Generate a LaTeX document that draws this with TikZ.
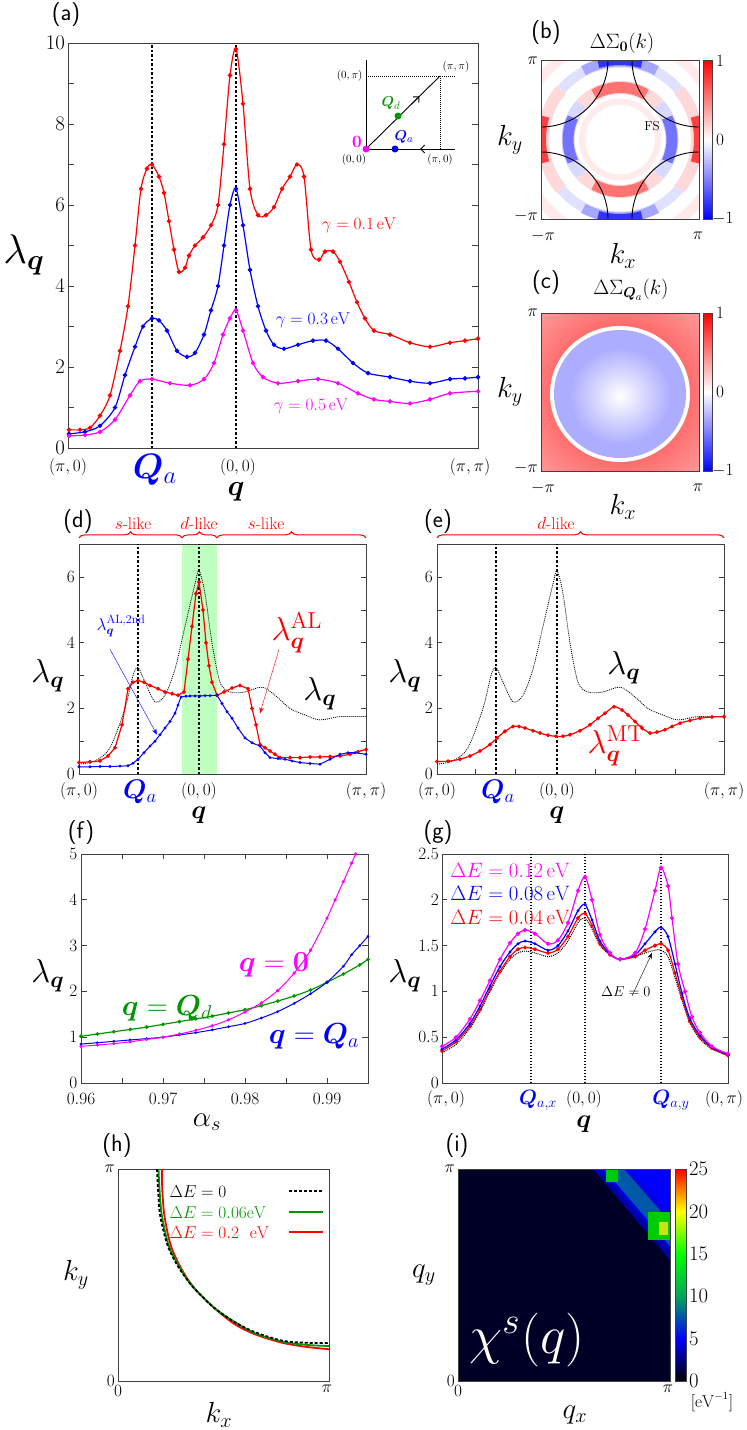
\documentclass[tikz,border=0pt]{standalone}
\usepackage{amsmath}
\usepackage{bm}
\usetikzlibrary{decorations.pathreplacing,arrows.meta,calc}
\newcommand{\fsz}[1]{\fontsize{#1}{#1}\selectfont}
\definecolor{jetnavy}{RGB}{0,0,38}
\definecolor{mag}{RGB}{255,0,255}
\definecolor{dgreen}{RGB}{0,150,0}
\begin{document}
\begin{tikzpicture}[x=1pt,y=-1pt]
\tikzstyle{frame}=[line width=0.9pt, black!75]
\tikzstyle{ticklab}=[font=\fsz{17}, inner sep=1pt]
\tikzstyle{panlab}=[font=\sffamily\fsz{24}, inner sep=0pt]
\tikzstyle{bigm}=[font=\fsz{20}, inner sep=1pt, scale=#1/20]
\tikzstyle{qline}=[line width=2.2pt, dash pattern=on 2.5pt off 2pt]
\tikzstyle{thinq}=[line width=1.2pt, dash pattern=on 1.5pt off 1.5pt]
\tikzstyle{lamdot}=[line width=0.8pt, dash pattern=on 1pt off 1pt]
\tikzstyle{curve}=[line width=1.2pt, mark=*, mark size=1.6pt]
\tikzstyle{brc}=[red, line width=1pt, decorate, decoration={brace, amplitude=6pt}]
\useasboundingbox (0,0) rectangle (747,1430);

% ---------------- (a)
\node[panlab] (pa) at (66,15) {(a)};
\begin{scope}[yshift=-448pt, y={(0,40.5pt)}]
\draw[frame] (68,0) rectangle (478,10);
\foreach \v in {0,2,...,10} \node[ticklab, font=\fsz{20}, anchor=east] (ya\v) at (66,\v) {$\v$};
\foreach \v in {1,...,9} {\draw[frame] (68,\v) -- ++(6,0); \draw[frame] (478,\v) -- ++(-6,0);}
\draw[qline] (152,0) -- (152,10);
\draw[qline] (236,0) -- (236,10);
\draw[curve, red] plot[smooth] coordinates {(69,0.45) (80,0.45) (90,0.5) (100,0.8) (110,1.3) (120,2.4) (128,3.5) (135,5) (141,6.4) (147,6.9) (152,7.0) (159,6.7) (164,6.3) (169,5.6) (174,4.9) (179,4.35) (185,4.45) (189,4.75) (195,5.0) (203,5.2) (211,5.5) (218,6.0) (224,7.5) (230,9.2) (236,9.85) (243,8.5) (250,6.4) (258,5.75) (266,5.75) (274,5.95) (282,6.4) (290,6.7) (297,7.0) (304,6.7) (311,4.9) (319,4.65) (325,4.85) (333,4.85) (340,4.6) (349,4.1) (357,3.6) (365,3.2) (374,2.9) (390,2.8) (410,2.6) (430,2.5) (450,2.6) (465,2.65) (478,2.7)};
\draw[curve, blue] plot[smooth] coordinates {(69,0.35) (85,0.4) (100,0.55) (115,1) (125,1.8) (135,2.5) (143,3.0) (152,3.2) (159,3.15) (167,2.9) (177,2.4) (187,2.25) (195,2.35) (204,2.8) (211,3.4) (218,4.0) (224,5.0) (230,6.0) (236,6.4) (243,5.5) (250,4.4) (258,3.5) (266,2.9) (274,2.55) (284,2.45) (298,2.55) (313,2.65) (326,2.65) (338,2.45) (353,2.1) (368,1.85) (390,1.75) (410,1.65) (430,1.6) (450,1.7) (465,1.72) (478,1.75)};
\draw[curve, mag] plot[smooth] coordinates {(69,0.3) (85,0.32) (100,0.4) (115,0.7) (130,1.3) (140,1.65) (152,1.7) (170,1.6) (190,1.55) (204,1.7) (214,2.1) (223,2.8) (230,3.2) (236,3.4) (243,2.9) (253,2.1) (263,1.75) (278,1.6) (298,1.65) (318,1.7) (338,1.6) (358,1.35) (374,1.2) (390,1.15) (410,1.1) (430,1.2) (450,1.35) (478,1.4)};
\end{scope}
\node[red, font=\fsz{16}] (ga1) at (359,225) {$\gamma=0.1\,\mathrm{eV}$};
\node[blue, font=\fsz{16}] (ga3) at (313,320) {$\gamma=0.3\,\mathrm{eV}$};
\node[mag, font=\fsz{16}] (ga5) at (311,406) {$\gamma=0.5\,\mathrm{eV}$};
\node[bigm=40] (lama) at (24,255) {$\lambda_{\bm q}$};
\node[ticklab, font=\fsz{19}] (xa1) at (68,467) {$(\pi,0)$};
\node[ticklab, font=\fsz{19}] (xa2) at (238,467) {$(0,0)$};
\node[ticklab, font=\fsz{19}] (xa3) at (470,467) {$(\pi,\pi)$};
\node[blue, bigm=34] (xaq) at (155,470) {$\bm{Q}_a$};
\node[bigm=28] (xaqq) at (236,492) {$\bm q$};
% inset
\coordinate (o) at (366,149);
\coordinate (pp) at (440,76);
\draw[line width=0.9pt] (366,60) -- (o) -- (455,149);
\draw[line width=0.9pt] (o) -- (pp);
\draw[lamdot] (366,76) -- (455,76);
\draw[lamdot] (440,76) -- (440,149);
\draw[line width=0.9pt, -{Straight Barb[length=4pt]}] ($(o)!0.62!(pp)$) -- ($(o)!0.72!(pp)$);
\draw[line width=0.9pt, -{Straight Barb[length=4pt]}] (430,149) -- (420,149);
\fill[mag] (o) circle (3.5);
\fill[blue] (395,149) circle (3.5);
\fill[dgreen] (398,116) circle (3.5);
\node[font=\fsz{11}, anchor=east] (i1) at (366,76) {$(0,\pi)$};
\node[font=\fsz{11}] (i2) at (456,67) {$(\pi,\pi)$};
\node[font=\fsz{11}] (i3) at (354,160) {$(0,0)$};
\node[font=\fsz{11}] (i4) at (440,160) {$(\pi,0)$};
\node[dgreen, font=\fsz{15}] (iqd) at (391,103) {$\bm Q_d$};
\node[blue, font=\fsz{15}] (iqa) at (404,137) {$\bm Q_a$};
\node[mag, font=\fsz{16}] (i0) at (357,142) {$\bm 0$};

% ---------------- (b)
\node[panlab] (pb) at (546,33) {(b)};
\node[font=\fsz{21}] (tb) at (622,43) {$\Delta\Sigma_{\bm 0}(k)$};
\begin{scope}
\clip (541,60) rectangle (699,219);
\fill[white] (541,60) rectangle (699,219);
\coordinate (cb) at (620,139.5);
\draw[red!8, line width=10pt] (cb) circle (100);
% outer ring
\draw[blue!12, line width=10pt] ($(cb)+(40:77)$) arc (40:140:77);
\draw[blue!12, line width=10pt] ($(cb)+(220:77)$) arc (220:320:77);
\draw[blue!35, line width=10pt] ($(cb)+(62:78)$) arc (62:118:78);
\draw[blue!35, line width=10pt] ($(cb)+(242:78)$) arc (242:298:78);
\draw[blue!80, line width=9pt] ($(cb)+(74:79)$) arc (74:106:79);
\draw[blue!80, line width=9pt] ($(cb)+(254:79)$) arc (254:286:79);
\draw[red!15, line width=12pt] ($(cb)+(140:77)$) arc (140:220:77);
\draw[red!15, line width=12pt] ($(cb)+(-40:77)$) arc (-40:40:77);
\draw[red!75, line width=10pt] ($(cb)+(163:79)$) arc (163:197:79);
\draw[red!75, line width=10pt] ($(cb)+(-17:79)$) arc (-17:17:79);
% inner ring
\draw[red!15, line width=13pt] ($(cb)+(42:52)$) arc (42:138:52);
\draw[red!15, line width=13pt] ($(cb)+(222:52)$) arc (222:318:52);
\draw[red!55, line width=11pt] ($(cb)+(60:52)$) arc (60:120:52);
\draw[red!55, line width=11pt] ($(cb)+(240:52)$) arc (240:300:52);
\draw[blue!15, line width=13pt] ($(cb)+(138:52)$) arc (138:222:52);
\draw[blue!15, line width=13pt] ($(cb)+(-42:52)$) arc (-42:42:52);
\draw[blue!55, line width=11pt] ($(cb)+(155:52)$) arc (155:205:52);
\draw[blue!55, line width=11pt] ($(cb)+(-25:52)$) arc (-25:25:52);
\draw[red!8, line width=6pt] (cb) circle (38);
\foreach \cx/\cy in {541/60, 699/60, 541/219, 699/219} \draw[line width=0.9pt] (\cx,\cy) circle (67);
\end{scope}
\draw[frame] (541,60) rectangle (699,219);
\node[font=\fsz{13}] (fs) at (652,126) {FS};
\shade[top color=red, bottom color=white] (703,60) rectangle (712,140);
\shade[top color=white, bottom color=blue] (703,140) rectangle (712,219);
\draw[frame] (703,60) rectangle (712,219);
\node[ticklab, anchor=west] (cb1) at (715,61) {$1$};
\node[ticklab, anchor=west] (cb2) at (715,140) {$0$};
\node[ticklab, anchor=west] (cb3) at (711,219) {$-1$};
\node[ticklab, anchor=east] (yb1) at (539,61) {$\pi$};
\node[ticklab, anchor=east] (yb2) at (539,216) {$-\pi$};
\node[ticklab] (xb1) at (543,236) {$-\pi$};
\node[ticklab] (xb2) at (698,236) {$\pi$};
\node[bigm=28] (kxb) at (623,256) {$k_x$};
\node[bigm=28] (kyb) at (510,140) {$k_y$};

% ---------------- (c)
\node[panlab] (pc) at (546,283) {(c)};
\node[font=\fsz{21}] (tc) at (631,290) {$\Delta\Sigma_{\bm Q_a}(k)$};
\begin{scope}
\clip (541,313) rectangle (699,471);
\fill[red!40] (541,313) rectangle (699,471);
\shade[inner color=red!85, outer color=red!40] (620,393) circle (112);
\fill[white] (620,394) ellipse (70 and 68);
\fill[blue!32] (620,394) ellipse (66 and 64);
\shade[inner color=white, outer color=blue!32] (620,396) ellipse (50 and 48);
\end{scope}
\draw[frame] (541,313) rectangle (699,471);
\shade[top color=red, bottom color=white] (703,313) rectangle (712,392);
\shade[top color=white, bottom color=blue] (703,392) rectangle (712,471);
\draw[frame] (703,313) rectangle (712,471);
\node[ticklab, anchor=west] (cc1) at (715,313) {$1$};
\node[ticklab, anchor=west] (cc2) at (715,392) {$0$};
\node[ticklab, anchor=west] (cc3) at (711,471) {$-1$};
\node[ticklab, anchor=east] (yc1) at (539,313) {$\pi$};
\node[ticklab, anchor=east] (yc2) at (539,468) {$-\pi$};
\node[ticklab] (xc1) at (543,488) {$-\pi$};
\node[ticklab] (xc2) at (698,488) {$\pi$};
\node[bigm=28] (kxc) at (623,507) {$k_x$};
\node[bigm=28] (kyc) at (510,392) {$k_y$};

% ---------------- (d)
\node[panlab] (pd) at (78,522) {(d)};
\begin{scope}[yshift=-774pt, y={(0,32.8pt)}]
\fill[green!25] (182,0) rectangle (217,7);
\draw[frame] (79,0) rectangle (366,7);
\foreach \v in {0,2,4,6} \node[ticklab, anchor=east] (yd\v) at (76,\v) {$\v$};
\foreach \v in {1,...,6} {\draw[frame] (79,\v) -- ++(5,0); \draw[frame] (366,\v) -- ++(-5,0);}
\draw[qline] (138,0) -- (138,7);
\draw[qline] (199,0) -- (199,7);
\draw[lamdot] plot[smooth] coordinates {(79,0.3) (95,0.4) (110,0.8) (125,2) (133,3.0) (138,3.25) (145,2.8) (155,2.2) (165,2.4) (175,3.2) (185,4.5) (195,5.8) (199,6.2) (205,5.5) (212,4) (220,2.8) (230,2.5) (245,2.5) (262,2.65) (275,2.4) (290,2.0) (305,1.8) (320,1.65) (340,1.75) (366,1.75)};
\draw[curve, red, mark size=1.3pt] plot coordinates {(79,0.35) (90,0.37) (100,0.4) (108,0.55) (115,0.8) (122,1.5) (128,2.6) (133,2.8) (138,2.85) (144,2.8) (150,2.7) (158,2.6) (165,2.5) (172,2.45) (178,2.4) (184,2.5) (188,3.5) (192,4.5) (196,5.5) (199,5.85) (203,5.0) (206,4.0) (209,3.3) (212,2.8) (217,2.4) (224,2.5) (232,2.62) (240,2.7) (248,2.6) (252,2.0) (256,1.5) (260,0.9) (265,0.8) (270,0.7) (275,0.6) (280,0.5) (290,0.5) (300,0.5) (310,0.52) (320,0.52) (330,0.53) (340,0.55) (350,0.6) (358,0.68) (366,0.75)};
\draw[curve, blue, mark size=0.9pt, line width=1pt] plot coordinates {(79,0.22) (90,0.22) (100,0.23) (110,0.23) (120,0.24) (128,0.25) (133,0.33) (138,0.45) (144,0.65) (150,0.85) (155,1.0) (160,1.2) (165,1.4) (170,1.6) (175,1.85) (178,2.1) (181,2.35) (186,2.37) (190,2.38) (195,2.38) (200,2.38) (205,2.39) (210,2.39) (217,2.4) (222,2.15) (227,1.9) (232,1.7) (238,1.4) (245,1.1) (252,0.95) (260,0.85) (265,0.65) (270,0.5) (278,0.47) (285,0.45) (292,0.4) (300,0.35) (310,0.32) (320,0.3) (330,0.45) (340,0.6) (348,0.65) (355,0.65) (366,0.6)};
\coordinate (ad1) at (110,3.8);
\coordinate (ad2) at (157,1.2);
\coordinate (ar1) at (279,3.8);
\coordinate (ar2) at (260,1.85);
\draw[brc] (79,7.2) -- (182,7.2);
\draw[brc] (182,7.2) -- (217,7.2);
\draw[brc] (217,7.2) -- (366,7.2);
\end{scope}
\draw[blue, -{Stealth[length=6pt]}] (ad1) -- (ad2);
\draw[red, -{Stealth[length=6pt]}] (ar1) -- (ar2);
\node[red, font=\fsz{17}] (sl1) at (133,524) {$s$-like};
\node[red, font=\fsz{17}] (dl1) at (199,524) {$d$-like};
\node[red, font=\fsz{17}] (sl2) at (266,524) {$s$-like};
\node[blue, font=\fsz{17}] (lal2) at (121,626) {$\lambda_{\bm q}^{\mathrm{AL,2nd}}$};
\node[red, bigm=32] (lal) at (297,633) {$\lambda_{\bm q}^{\mathrm{AL}}$};
\node[bigm=32] (lamd) at (320,694) {$\lambda_{\bm q}$};
\node[bigm=32] (lamdy) at (48,676) {$\lambda_{\bm q}$};
\node[ticklab] (xd1) at (79,791) {$(\pi,0)$};
\node[blue, bigm=26] (xd2) at (140,792) {$\bm Q_a$};
\node[ticklab] (xd3) at (199,791) {$(0,0)$};
\node[ticklab] (xd4) at (366,791) {$(\pi,\pi)$};
\node[bigm=25] (xd5) at (199,815) {$\bm q$};

% ---------------- (e)
\node[panlab] (pe) at (438,522) {(e)};
\begin{scope}[yshift=-774pt, y={(0,32.8pt)}]
\draw[frame] (437,0) rectangle (724,7);
\foreach \v in {0,2,4,6} \node[ticklab, anchor=east] (ye\v) at (434,\v) {$\v$};
\foreach \v in {1,...,6} {\draw[frame] (437,\v) -- ++(5,0); \draw[frame] (724,\v) -- ++(-5,0);}
\foreach \u in {475,515,595,635,675} \draw[frame] (\u,0) -- ++(0,0.15);
\draw[qline] (496,0) -- (496,7);
\draw[qline] (557,0) -- (557,7);
\draw[lamdot] plot[smooth] coordinates {(437,0.3) (453,0.4) (468,0.8) (483,2) (491,3.0) (496,3.25) (503,2.8) (513,2.2) (523,2.4) (533,3.2) (543,4.5) (553,5.8) (557,6.2) (563,5.5) (570,4) (578,2.8) (588,2.5) (603,2.5) (620,2.65) (633,2.4) (648,2.0) (663,1.8) (678,1.65) (698,1.75) (724,1.75)};
\draw[curve, red, mark size=1.3pt] plot[smooth] coordinates {(437,0.38) (448,0.39) (460,0.45) (470,0.55) (480,0.7) (490,0.9) (497,1.1) (505,1.3) (513,1.45) (519,1.45) (525,1.4) (533,1.32) (540,1.25) (548,1.18) (556,1.15) (563,1.15) (570,1.2) (580,1.32) (590,1.5) (598,1.7) (605,1.85) (614,2.05) (622,1.95) (628,1.8) (635,1.6) (642,1.4) (650,1.25) (657,1.28) (665,1.35) (672,1.45) (680,1.55) (690,1.63) (700,1.7) (712,1.74) (724,1.75)};
\draw[brc] (437,7.2) -- (724,7.2);
\end{scope}
\node[red, font=\fsz{17}] (dl2) at (556,524) {$d$-like};
\node[bigm=32] (lame) at (624,668) {$\lambda_{\bm q}$};
\node[red, bigm=32] (lmt) at (616,746) {$\lambda_{\bm q}^{\mathrm{MT}}$};
\node[bigm=32] (lamey) at (405,676) {$\lambda_{\bm q}$};
\node[ticklab] (xe1) at (437,791) {$(\pi,0)$};
\node[blue, bigm=26] (xe2) at (498,792) {$\bm Q_a$};
\node[ticklab] (xe3) at (557,791) {$(0,0)$};
\node[ticklab] (xe4) at (724,791) {$(\pi,\pi)$};
\node[bigm=25] (xe5) at (557,815) {$\bm q$};

% ---------------- (f)
\node[panlab] (pf) at (81,833) {(f)};
\begin{scope}[shift={(81,1083)}, x={(8.2pt,0)}, y={(0,45.8pt)}]
\draw[frame] (0,0) rectangle (35,5);
\foreach \v in {0,...,5} \node[ticklab, anchor=east] (yf\v) at (-0.3,\v) {$\v$};
\foreach \v in {1,...,4} {\draw[frame] (0,\v) -- ++(0.7,0); \draw[frame] (35,\v) -- ++(-0.7,0);}
\foreach \u in {5,10,...,30} {\draw[frame] (\u,0) -- ++(0,0.1); \draw[frame] (\u,5) -- ++(0,-0.1);}
\foreach \u/\t in {0/0.96,10/0.97,20/0.98,30/0.99} \node[ticklab, anchor=north] (xf\u) at (\u,-0.2) {$\t$};
\draw[curve, dgreen, mark size=1.2pt] plot[smooth] coordinates {(0,1.02) (2,1.07) (4,1.12) (6,1.17) (8,1.22) (10,1.28) (12,1.34) (14,1.4) (16,1.46) (18,1.53) (20,1.6) (22,1.69) (24,1.79) (26,1.9) (28,2.03) (30,2.2) (32,2.38) (34,2.58) (35,2.7)};
\draw[curve, blue, mark size=0.8pt, line width=1pt] plot[smooth] coordinates {(0,0.85) (2,0.88) (4,0.91) (6,0.94) (8,0.97) (10,1.0) (12,1.05) (14,1.1) (16,1.16) (18,1.23) (20,1.3) (22,1.42) (24,1.56) (26,1.74) (28,1.95) (30,2.2) (32,2.55) (33,2.8) (34,3.0) (35,3.2)};
\draw[curve, mag, mark size=1.1pt, line width=1pt] plot[smooth] coordinates {(0,0.8) (2,0.83) (4,0.86) (6,0.9) (8,0.95) (10,1.0) (12,1.07) (14,1.15) (16,1.25) (18,1.38) (20,1.55) (22,1.75) (24,2.02) (26,2.4) (28,2.9) (30,3.6) (31,4.0) (32,4.4) (33,4.8) (33.5,5.0)};
\end{scope}
\node[mag, bigm=28] (fq0) at (274,965) {$\bm q=\bm 0$};
\node[dgreen, bigm=28] (fqd) at (167,1008) {$\bm q=\bm Q_d$};
\node[blue, bigm=28] (fqa) at (314,1036) {$\bm q=\bm Q_a$};
\node[bigm=32] (lamfy) at (48,976) {$\lambda_{\bm q}$};
\node[bigm=28] (alf) at (207,1122) {$\alpha_s$};

% ---------------- (g)
\node[panlab] (pg) at (438,833) {(g)};
\begin{scope}[yshift=-1083pt, y={(0,91.6pt)}]
\draw[frame] (442,0) rectangle (728,2.5);
\foreach \v in {0,0.5,1,1.5,2,2.5} \node[ticklab, anchor=east] (yg) at (440,\v) {$\v$};
\foreach \v in {0.5,1,...,2} {\draw[frame] (442,\v) -- ++(5,0); \draw[frame] (728,\v) -- ++(-5,0);}
\draw[thinq] (531,0) -- (531,2.5);
\draw[thinq] (585,0) -- (585,2.5);
\draw[thinq] (661,0) -- (661,2.5);
\draw[lamdot, line width=1pt] plot[smooth] coordinates {(442,0.33) (456,0.42) (470,0.6) (480,0.78) (490,1.0) (500,1.2) (510,1.35) (518,1.42) (525,1.44) (535,1.42) (548,1.38) (558,1.42) (568,1.55) (578,1.75) (585,1.8) (592,1.68) (600,1.5) (610,1.4) (620,1.35) (635,1.38) (645,1.42) (655,1.45) (661,1.45) (668,1.38) (675,1.15) (682,0.9) (690,0.65) (700,0.48) (712,0.37) (728,0.3)};
\draw[curve, red, mark size=1.3pt] plot[smooth] coordinates {(442,0.35) (456,0.45) (470,0.62) (480,0.8) (490,1.02) (500,1.22) (510,1.38) (518,1.46) (525,1.48) (535,1.46) (548,1.42) (558,1.46) (568,1.6) (578,1.8) (585,1.85) (592,1.72) (600,1.52) (610,1.4) (620,1.35) (635,1.38) (645,1.45) (655,1.5) (661,1.52) (668,1.45) (675,1.2) (682,0.93) (690,0.67) (700,0.5) (712,0.38) (728,0.3)};
\draw[curve, blue, mark size=0.8pt] plot[smooth] coordinates {(442,0.37) (456,0.47) (470,0.65) (480,0.84) (490,1.06) (500,1.27) (510,1.43) (518,1.52) (525,1.55) (535,1.52) (548,1.45) (558,1.5) (568,1.66) (578,1.88) (585,1.95) (592,1.78) (600,1.55) (610,1.41) (620,1.35) (635,1.4) (645,1.52) (655,1.65) (661,1.7) (668,1.6) (675,1.3) (682,0.98) (690,0.7) (700,0.52) (712,0.39) (728,0.31)};
\draw[curve, mag, mark size=1.5pt] plot[smooth] coordinates {(442,0.4) (456,0.5) (470,0.7) (480,0.9) (490,1.12) (500,1.35) (510,1.53) (518,1.63) (525,1.67) (535,1.63) (548,1.52) (558,1.56) (568,1.75) (578,2.1) (585,2.25) (592,2.0) (600,1.62) (610,1.42) (620,1.35) (635,1.42) (645,1.68) (655,2.1) (661,2.35) (668,2.15) (672,1.8) (678,1.3) (685,1.0) (692,0.72) (700,0.55) (712,0.4) (728,0.32)};
\coordinate (ag1) at (632,0.95);
\coordinate (ag2) at (652,1.42);
\end{scope}
\draw[-{Stealth[length=6pt]}] (ag1) -- (ag2);
\node[font=\fsz{14}] (ge0) at (626,992) {$\Delta E=0$};
\node[mag, font=\fsz{21}] (ge1) at (510,870) {$\Delta E=0.12\,\mathrm{eV}$};
\node[blue, font=\fsz{21}] (ge2) at (510,893) {$\Delta E=0.08\,\mathrm{eV}$};
\node[red, font=\fsz{21}] (ge3) at (510,917) {$\Delta E=0.04\,\mathrm{eV}$};
\node[bigm=32] (lamgy) at (405,976) {$\lambda_{\bm q}$};
\node[ticklab] (xg1) at (446,1099) {$(\pi,0)$};
\node[blue, font=\fsz{22}] (xg2) at (538,1100) {$\bm Q_{a,x}$};
\node[ticklab] (xg3) at (584,1099) {$(0,0)$};
\node[blue, font=\fsz{22}] (xg4) at (671,1100) {$\bm Q_{a,y}$};
\node[ticklab] (xg5) at (724,1099) {$(0,\pi)$};
\node[bigm=25] (xg6) at (584,1124) {$\bm q$};

% ---------------- (h)
\node[panlab] (ph) at (117,1145) {(h)};
\begin{scope}[shift={(118,1381)}, x={(211pt,0)}, y={(0,212pt)}]
\draw[frame] (0,0) rectangle (1,1);
\draw[red, line width=1.8pt] plot[smooth] coordinates {(0.208,1) (0.21,0.9) (0.22,0.78) (0.25,0.64) (0.3,0.53) (0.36,0.44) (0.45,0.35) (0.55,0.27) (0.65,0.22) (0.78,0.18) (0.9,0.16) (1,0.15)};
\draw[dgreen, line width=1.8pt] plot[smooth] coordinates {(0.192,1) (0.197,0.9) (0.208,0.78) (0.24,0.64) (0.29,0.54) (0.35,0.45) (0.45,0.35) (0.55,0.28) (0.65,0.225) (0.78,0.185) (0.9,0.17) (1,0.165)};
\draw[line width=1.8pt, dash pattern=on 3pt off 2pt] plot[smooth] coordinates {(0.185,1) (0.19,0.9) (0.2,0.78) (0.235,0.64) (0.285,0.54) (0.35,0.45) (0.45,0.35) (0.55,0.28) (0.65,0.23) (0.78,0.19) (0.9,0.18) (1,0.18)};
\draw[line width=1.8pt, dash pattern=on 3pt off 2pt] (0.81,0.896) -- (0.97,0.896);
\draw[dgreen, line width=1.8pt] (0.81,0.797) -- (0.97,0.797);
\draw[red, line width=1.8pt] (0.81,0.703) -- (0.97,0.703);
\end{scope}
\node[font=\fsz{18}, anchor=west] (he0) at (166,1192) {$\Delta E=0$};
\node[dgreen, font=\fsz{18}, anchor=west] (he1) at (166,1213) {$\Delta E=0.06\mathrm{eV}$};
\node[red, font=\fsz{18}, anchor=west] (he2) at (166,1233) {$\Delta E=0.2\ \ \mathrm{eV}$};
\node[ticklab, anchor=east] (yh1) at (116,1169) {$\pi$};
\node[ticklab, anchor=east] (yh0) at (116,1381) {$0$};
\node[ticklab, anchor=north] (xh0) at (118,1384) {$0$};
\node[ticklab, anchor=north] (xh1) at (327,1384) {$\pi$};
\node[bigm=28] (kyh) at (76,1275) {$k_y$};
\node[bigm=28] (kxh) at (219,1415) {$k_x$};

% ---------------- (i)
\node[panlab] (pi) at (457,1145) {(i)};
\begin{scope}
\clip (458,1169) rectangle (670,1381);
\fill[jetnavy] (458,1169) rectangle (670,1381);
\fill[blue!60!jetnavy] (593,1169) -- (670,1169) -- (670,1260) -- cycle;
\fill[blue!90!black] (600,1169) -- (670,1169) -- (670,1250) -- cycle;
\fill[teal!70!blue] (604,1169) -- (624,1169) -- (670,1222) -- (670,1246) -- cycle;
\fill[blue] (630,1169) -- (670,1169) -- (670,1212) -- cycle;
\fill[green!80!black] (606,1169) rectangle (618,1182);
\fill[green!80!black] (648,1212) rectangle (670,1240);
\fill[yellow!80!green] (659,1222) rectangle (668,1235);
\end{scope}
\draw[frame] (458,1169) rectangle (670,1381);
\node[white, bigm=52] (chi) at (527,1340) {$\chi^{s}(q)$};
\shade[bottom color=black, top color=blue] (675,1338.6) rectangle (686,1381);
\shade[bottom color=blue, top color=teal!70!green] (675,1296.2) rectangle (686,1338.6);
\shade[bottom color=teal!70!green, top color=green] (675,1253.8) rectangle (686,1296.2);
\shade[bottom color=green, top color=yellow] (675,1211.4) rectangle (686,1253.8);
\shade[bottom color=yellow, top color=red] (675,1169) rectangle (686,1211.4);
\draw[frame] (675,1169) rectangle (686,1381);
\foreach \v [count=\i from 0] in {0,5,10,15,20,25} \node[ticklab, font=\fsz{20}, anchor=west] (ci\i) at (688,1381-42.4*\i) {$\v$};
\node[font=\fsz{16}] (unit) at (712,1402) {$[\mathrm{eV}^{-1}]$};
\node[ticklab, anchor=east] (yi1) at (456,1169) {$\pi$};
\node[ticklab, anchor=east] (yi0) at (456,1381) {$0$};
\node[ticklab, anchor=north] (xi0) at (458,1384) {$0$};
\node[ticklab, anchor=north] (xi1) at (668,1384) {$\pi$};
\node[bigm=28] (qyi) at (424,1275) {$q_y$};
\node[bigm=28] (qxi) at (575,1415) {$q_x$};
\end{tikzpicture}
\end{document}
